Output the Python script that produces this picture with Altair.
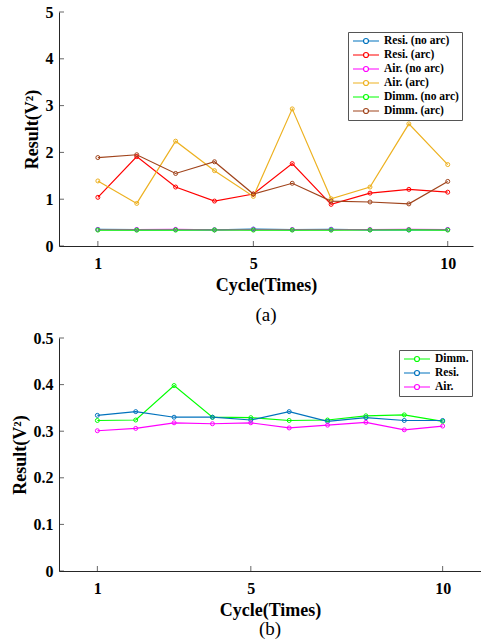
import altair as alt
import pandas as pd

cycles = list(range(1, 11))

# Panel (a)
resi_no_arc = [0.355, 0.350, 0.352, 0.345, 0.362, 0.350, 0.358, 0.345, 0.342, 0.352]
resi_arc = [1.04, 1.91, 1.26, 0.96, 1.11, 1.76, 0.89, 1.13, 1.21, 1.15]
air_no_arc = [0.350, 0.352, 0.355, 0.345, 0.352, 0.350, 0.348, 0.352, 0.355, 0.352]
air_arc = [1.39, 0.91, 2.24, 1.61, 1.06, 2.93, 1.01, 1.26, 2.61, 1.74]
dimm_no_arc = [0.340, 0.338, 0.340, 0.342, 0.340, 0.340, 0.338, 0.342, 0.345, 0.340]
dimm_arc = [1.89, 1.95, 1.55, 1.80, 1.11, 1.34, 0.96, 0.94, 0.90, 1.38]

series_a = ["Resi. (no arc)", "Resi. (arc)", "Air. (no arc)", "Air. (arc)",
            "Dimm. (no arc)", "Dimm. (arc)"]
colors_a = ["#0072BD", "#FF0000", "#FF00FF", "#EDB120", "#00FF00", "#A0441C"]

# Panel (b)
dimm_b = [0.323, 0.324, 0.398, 0.330, 0.329, 0.323, 0.324, 0.333, 0.335, 0.321]
resi_b = [0.334, 0.342, 0.330, 0.330, 0.324, 0.342, 0.321, 0.329, 0.323, 0.323]
air_b = [0.301, 0.306, 0.318, 0.316, 0.318, 0.307, 0.313, 0.319, 0.303, 0.311]
series_b = ["Dimm.", "Resi.", "Air."]
colors_b = ["#00FF00", "#0072BD", "#FF00FF"]

x_ticks = [1, 5, 10]
y_ticks_a = [0, 1, 2, 3, 4, 5]
y_ticks_b = [0, 0.1, 0.2, 0.3, 0.4, 0.5]

FONT = "Liberation Serif"
AXIS_COLOR = "#262626"
SYMBOL = ("M-2.6,0L-0.5,0M0.5,0L2.6,0"
          "M0.5,0A0.5,0.5 0 1,1 -0.5,0A0.5,0.5 0 1,1 0.5,0")


def long_df(names, lists):
    rows = []
    for n, vals in zip(names, lists):
        for c, v in zip(cycles, vals):
            rows.append({"cycle": c, "value": v, "series": n})
    return pd.DataFrame(rows)


df_a = long_df(series_a, [resi_no_arc, resi_arc, air_no_arc, air_arc, dimm_no_arc, dimm_arc])
df_b = long_df(series_b, [dimm_b, resi_b, air_b])


def panel(df, names, colors, xdom, ydom, yticks, width, height, lx, ly, tag, tag_offset, xtitle_pad):
    xs = alt.Scale(domain=xdom, nice=False, zero=False)
    ys = alt.Scale(domain=ydom, nice=False)
    xaxis = alt.Axis(values=x_ticks, title="Cycle(Times)", grid=False, ticks=False,
                     labelPadding=9, titlePadding=xtitle_pad, format="d")
    yaxis = alt.Axis(values=yticks, title="Result(V\u00b2)", grid=False, ticks=False,
                     labelPadding=6, titlePadding=4, format="~g")
    legend = alt.Legend(
        orient="none", legendX=lx, legendY=ly, title=None, padding=3,
        symbolOffset=9, labelOffset=12, rowPadding=2, symbolSize=100,
        symbolType=SYMBOL, symbolStrokeWidth=1.2, symbolFillColor="white",
        labelFont=FONT, labelFontSize=11.5, labelFontWeight="bold", labelColor="black",
        strokeColor="#555555", fillColor="white",
    )
    lines = alt.Chart(df).mark_line(
        strokeWidth=1.2,
        point=alt.OverlayMarkDef(filled=False, size=16, strokeWidth=1),
    ).encode(
        x=alt.X("cycle:Q", scale=xs, axis=xaxis),
        y=alt.Y("value:Q", scale=ys, axis=yaxis),
        color=alt.Color("series:N", scale=alt.Scale(domain=names, range=colors),
                        sort=names, legend=legend),
    )
    xt = alt.Chart(pd.DataFrame({"t": x_ticks})).mark_tick(
        orient="vertical", size=5, thickness=1, yOffset=-2.5, color=AXIS_COLOR
    ).encode(x=alt.X("t:Q", scale=xs), y=alt.datum(ydom[0]))
    yt = alt.Chart(pd.DataFrame({"t": yticks})).mark_tick(
        orient="horizontal", size=5, thickness=1, xOffset=2.5, color=AXIS_COLOR
    ).encode(y=alt.Y("t:Q", scale=ys), x=alt.datum(xdom[0]))
    return alt.layer(xt, yt, lines).properties(
        width=width, height=height,
        title=alt.TitleParams(tag, orient="bottom", font=FONT, fontSize=19,
                              fontWeight="normal", color="black", offset=tag_offset),
    )


pa = panel(df_a, series_a, colors_a, [0, 10.65], [0, 5], y_ticks_a, 414, 234, 289, 20, "(a)", 12, 5)
pb = panel(df_b, series_b, colors_b, [0, 11], [0, 0.5], y_ticks_b, 422, 233, 340, 12, "(b)", 1, 5)

chart = alt.vconcat(pa, pb, spacing=5).resolve_scale(color="independent").properties(
    padding={"left": 11, "top": 4, "right": 0, "bottom": 0},
    background="white",
).configure_view(stroke=None).configure_axis(
    labelFont=FONT, labelFontSize=16, labelFontWeight="bold", labelColor="black",
    titleFont=FONT, titleFontSize=18, titleFontWeight="bold", titleColor="black",
    domainColor=AXIS_COLOR, domainWidth=1,
)

chart.save("out.html", embed_options={"renderer": "svg", "actions": False})
